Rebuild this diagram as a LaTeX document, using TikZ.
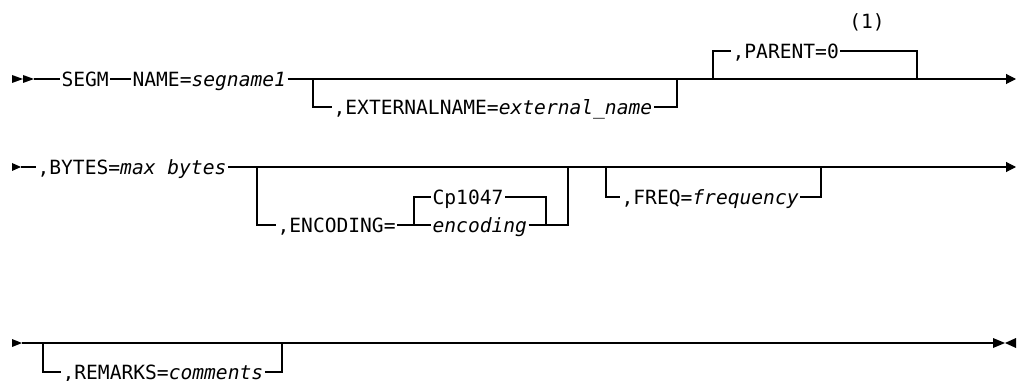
\documentclass[tikz,border=0pt]{standalone}
\usepackage{fontspec}
\setmonofont{DejaVu Sans Mono}
\usetikzlibrary{arrows.meta}
\begin{document}
\begin{tikzpicture}[x=0.75pt,y=-0.75pt,line width=0.8pt,
  lbl/.style={anchor=west,inner ysep=0pt,inner xsep=0.8pt,text height=10.7pt,text depth=0pt,font=\fontsize{14.7}{17}\selectfont\ttfamily},
  note/.style={inner sep=0pt,font=\fontsize{14.7}{17}\selectfont\ttfamily},
  tipfill/.style={fill=black,draw=none},
  arr/.style={-{Triangle[length=7.5pt,width=7.5pt]}}]
\useasboundingbox (0,0) rectangle (1018,381);

% ---------------- Row 1 ----------------
\fill[tipfill] (12,75) -- (23,79) -- (12,83) -- cycle;
\fill[tipfill] (23,75) -- (34,79) -- (23,83) -- cycle;
\coordinate (s1) at (34,79);
\node[lbl] (segm) at (60,79) {SEGM};
\node[lbl] (name) at (131,79) {NAME=\textit{segname1}};
\coordinate (e1) at (1016,79);
\draw (s1) -- (segm.west);
\draw (segm.east) -- (name.west);
\draw[arr] (name.east) -- (e1);

\coordinate (b1) at (313,79);
\coordinate (b1d) at (313,107);
\coordinate (b1e) at (677,79);
\coordinate (b1ed) at (677,107);
\node[lbl] (ext) at (332,107) {,EXTERNALNAME=\textit{external\_name}};
\draw (b1) -- (b1d) -- (ext.west);
\draw (ext.east) -- (b1ed) -- (b1e);

\coordinate (p1) at (713,79);
\coordinate (p1u) at (713,51);
\coordinate (p1e) at (917,79);
\coordinate (p1eu) at (917,51);
\node[lbl] (par) at (731,51) {,PARENT=0};
\draw (p1) -- (p1u) -- (par.west);
\draw (par.east) -- (p1eu) -- (p1e);
\node[note] (fn) at (867,22) {(1)};

% ---------------- Row 2 ----------------
\fill[tipfill] (12,163) -- (21,167) -- (12,171) -- cycle;
\coordinate (s2) at (21,167);
\node[lbl] (bytes) at (36,167) {,BYTES=\textit{max bytes}};
\coordinate (e2) at (1016,167);
\draw (s2) -- (bytes.west);
\draw[arr] (bytes.east) -- (e2);

\coordinate (b2) at (257,167);
\coordinate (b2d) at (257,225);
\node[lbl] (enc) at (276,225) {,ENCODING=};
\draw (b2) -- (b2d) -- (enc.west);
\coordinate (i2) at (414,225);
\coordinate (i2u) at (414,197);
\node[lbl] (encv) at (431,225) {\textit{encoding}};
\node[lbl] (cp) at (431,197) {Cp1047};
\draw (enc.east) -- (i2) -- (encv.west);
\draw (i2) -- (i2u) -- (cp.west);
\coordinate (i2e) at (546,225);
\coordinate (i2eu) at (546,197);
\draw (cp.east) -- (i2eu) -- (i2e);
\coordinate (b2e) at (568,167);
\coordinate (b2ed) at (568,225);
\draw (encv.east) -- (b2ed) -- (b2e);

\coordinate (f2) at (606,167);
\coordinate (f2d) at (606,197);
\node[lbl] (freq) at (620,197) {,FREQ=\textit{frequency}};
\draw (f2) -- (f2d) -- (freq.west);
\coordinate (f2e) at (821,167);
\coordinate (f2ed) at (821,197);
\draw (freq.east) -- (f2ed) -- (f2e);

% ---------------- Row 3 ----------------
\fill[tipfill] (12,339) -- (22,343) -- (12,347) -- cycle;
\coordinate (s3) at (22,343);
\coordinate (e3) at (993,343);
\draw (s3) -- (e3);
\fill[tipfill] (993,338) -- (1005,343) -- (993,348) -- cycle;
\fill[tipfill] (1016,338) -- (1005,343) -- (1016,348) -- cycle;

\coordinate (b3) at (43,343);
\coordinate (b3d) at (43,372);
\node[lbl] (rem) at (61,372) {,REMARKS=\textit{comments}};
\draw (b3) -- (b3d) -- (rem.west);
\coordinate (b3e) at (282,343);
\coordinate (b3ed) at (282,372);
\draw (rem.east) -- (b3ed) -- (b3e);
\end{tikzpicture}
\end{document}
